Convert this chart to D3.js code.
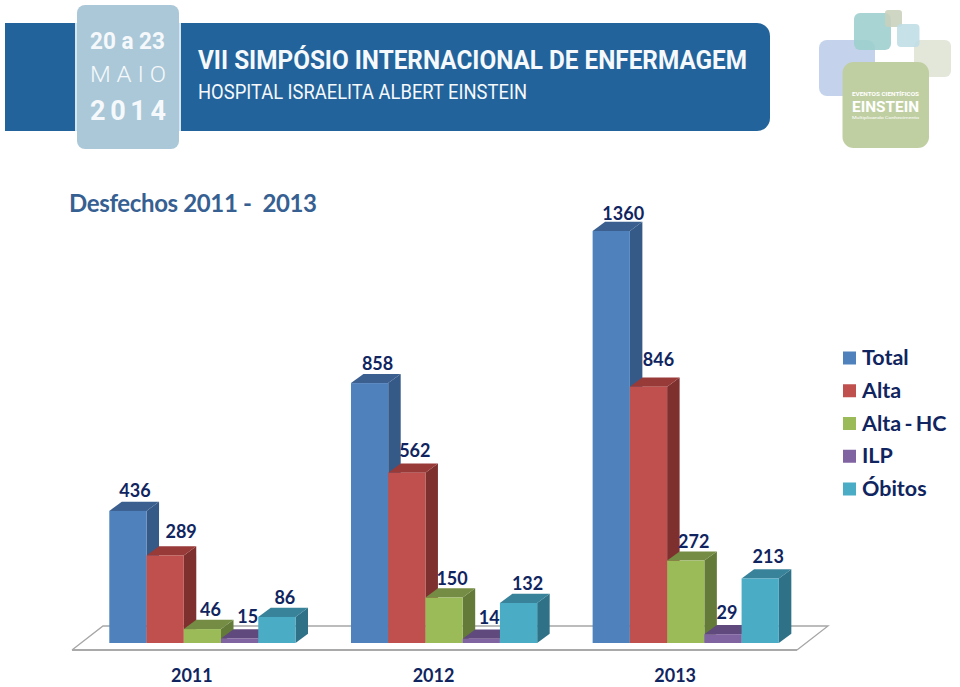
<!DOCTYPE html>
<html><head><meta charset="utf-8">
<script src="https://cdn.jsdelivr.net/npm/d3@7/dist/d3.min.js"></script>
<style>html,body{margin:0;padding:0;background:#fff}svg{display:block}</style>
</head><body><svg id="c" width="960" height="687"></svg>
<script>
const years = ["2011","2012","2013"];
const seriesNames = ["Total","Alta","Alta - HC","ILP","Óbitos"];
const total = [436,858,1360];
const alta = [289,562,846];
const altaHC = [46,150,272];
const ilp = [15,14,29];
const obitos = [86,132,213];
const seriesValues = [total,alta,altaHC,ilp,obitos];
const frontColors = ["#4f81bd","#c0504d","#9bbb59","#8064a2","#4bacc6"];
const topColors = ["#3b5f8f","#983a38","#748c43","#60497c","#38829a"];
const sideColors = ["#355a88","#7e302e","#647a38","#553d72","#2f7287"];
const ink = "#10255f";
const font = "Lato, Carlito, sans-serif";

const svg = d3.select("#c");

// Banner
const bannerBlue = "#22639b";
svg.append("path").attr("fill",bannerBlue)
  .attr("d","M5,23H757a13,13 0 0 1 13,13V118a13,13 0 0 1 -13,13H5Z");
svg.append("rect").attr("x",75).attr("y",23).attr("width",106).attr("height",108).attr("fill","#d5e6f0");
svg.append("rect").attr("x",77).attr("y",5).attr("width",102).attr("height",144).attr("rx",8).attr("fill","#abc8d8");
const btext = (t,x,y,size,w,weight) => svg.append("text").attr("x",x).attr("y",y)
  .attr("font-family","Roboto, sans-serif").attr("font-size",size).attr("font-weight",weight)
  .attr("fill","#f6f9fb")
  .attr("textLength",w).attr("lengthAdjust","spacingAndGlyphs").text(t);
btext("20 a 23",90,49,23.5,75,700);
btext("M A I O",90,82,22,76,300);
btext("2014",90,120,27,76,700).attr("lengthAdjust","spacing");
btext("VII SIMPÓSIO INTERNACIONAL DE ENFERMAGEM",198,69,25,549,700);
btext("HOSPITAL ISRAELITA ALBERT EINSTEIN",198,99,19.5,329,400);

// Logo
const logo = [
 [819,40,56,56,8,"#bccdE8"],
 [914,40,37,37,6,"#dfe4d4"],
 [854,13,37,37,6,"#9ccfcd"],
 [885,10,17,17,3,"#c8d0bc"],
 [897,24,22.5,23,4,"#bfdde6"]];
logo.forEach(d=>svg.append("rect").attr("x",d[0]).attr("y",d[1]).attr("width",d[2]).attr("height",d[3])
  .attr("rx",d[4]).attr("fill",d[5]).attr("fill-opacity",0.88));
svg.append("rect").attr("x",842.5).attr("y",62).attr("width",86.5).attr("height",86).attr("rx",11).attr("fill","#c0cfa2");
const lt = (t,y,size,w,weight)=>svg.append("text").attr("x",852).attr("y",y).attr("font-family","Roboto, sans-serif")
  .attr("font-size",size).attr("font-weight",weight).attr("fill","#fff").attr("textLength",w).attr("lengthAdjust","spacingAndGlyphs").text(t);
lt("EVENTOS CIENTÍFICOS",96.4,5,67,700);
lt("EINSTEIN",111.5,15,67,700);
lt("Multiplicando Conhecimento",119.2,4,67,400);

// Title
svg.append("text").attr("x",69).attr("y",212).attr("font-family",font).attr("font-size",24)
  .attr("font-weight",700).attr("fill","#366092").attr("textLength",248).attr("lengthAdjust","spacing")
  .attr("xml:space","preserve").style("white-space","pre").text("Desfechos 2011 -  2013");

// Chart scales
const floorFrontY = 650, floorBackY = 626, floorX0 = 72, floorX1 = 797, depthFloor = 31;
const x0 = d3.scaleBand().domain(years).range([floorX0,floorX1]);
const x1 = d3.scaleBand().domain(seriesNames).range([37.3,223.5]);
const y = d3.scaleLinear().domain([0,1360]).range([643,231]);
const dx = 12.5, dy = 9.2;

// Floor
const gFloor = svg.append("g");
gFloor.append("path").attr("fill","#fff").attr("stroke","#a6a6a6").attr("stroke-width",1.3)
  .attr("d",`M${floorX0},${floorFrontY}L${floorX0+depthFloor},${floorBackY}H${floorX1+depthFloor}L${floorX1},${floorFrontY}`);
gFloor.append("line").attr("x1",floorX0).attr("x2",floorX1).attr("y1",floorFrontY).attr("y2",floorFrontY)
  .attr("stroke","#a9a9a9").attr("stroke-width",2);

// Bars
const barsG = svg.append("g");
years.forEach((yr,yi)=>{
  seriesNames.forEach((s,si)=>{
    const v = seriesValues[si][yi];
    const bx = x0(yr)+x1(s), w = x1.bandwidth(), ty = y(v), by = y(0);
    const g = barsG.append("g");
    g.append("path").attr("fill",sideColors[si])
      .attr("d",`M${bx+w},${ty}l${dx},${-dy}V${by-dy}L${bx+w},${by}Z`);
    g.append("path").attr("fill",topColors[si])
      .attr("d",`M${bx},${ty}l${dx},${-dy}h${w}l${-dx},${dy}Z`);
    g.append("rect").attr("x",bx).attr("y",ty).attr("width",w).attr("height",by-ty).attr("fill",frontColors[si]);
  });
});

// Value labels: above the bar, following the source's hand-placed nudges
const nudge = {"1360":[4,2],"846":[2,-7.5],"562":[0,-3],"289":[8,-4],"436":[-1,-1],"15":[0,-2.5],"14":[0,-2],"29":[-4,-2],"213":[0,-2.5],"132":[1,0]};
years.forEach((yr,yi)=>{
  seriesNames.forEach((s,si)=>{
    const v = seriesValues[si][yi], n = nudge[v]||[0,0];
    svg.append("text").attr("x",x0(yr)+x1(s)+x1.bandwidth()/2+8+n[0]).attr("y",y(v)-13+n[1])
      .attr("text-anchor","middle").attr("font-family",font).attr("font-size",18).attr("font-weight",700)
      .attr("fill",ink).text(v);
  });
});

// Category axis
const axis = svg.append("g").attr("transform","translate(-1,682)")
  .call(d3.axisBottom(x0).tickSize(0).tickPadding(0));
axis.select(".domain").remove();
axis.selectAll("text").attr("y",0).attr("dy",0).attr("font-family",font).attr("font-size",18).attr("font-weight",700).attr("fill",ink);

// Legend
const legY = d3.scalePoint().domain(seriesNames).range([358,489]);
seriesNames.forEach((s,i)=>{
  svg.append("rect").attr("x",843).attr("y",legY(s)-6.5).attr("width",13).attr("height",13).attr("fill",frontColors[i]);
  svg.append("text").attr("x",862).attr("y",legY(s)+7).attr("font-family",font).attr("font-size",21.5)
    .attr("font-weight",700).attr("fill",ink).attr("word-spacing",-2).text(s);
});
</script></body></html>
